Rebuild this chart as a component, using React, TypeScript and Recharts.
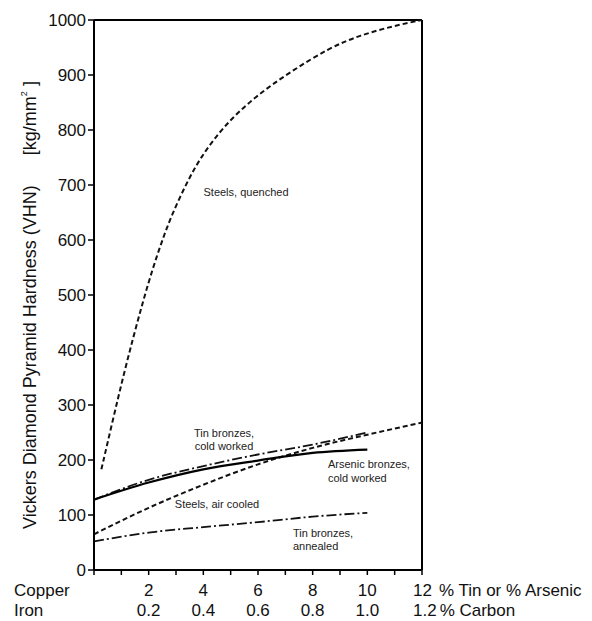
import React from 'react';
import { LineChart, Line, XAxis, YAxis, ReferenceLine, Customized } from 'recharts';

// Steels, quenched (own x positions, % carbon scaled to 0-12)
const quenchedX = [0.27, 0.7, 1.06, 1.43, 1.79, 2.16, 2.5, 2.83, 3.38, 3.87, 4.72, 5.87, 7.16, 8.63, 9.72, 10.93, 12];
const quenchedY = [183, 275, 350, 422, 488, 550, 600, 644, 703, 748, 806, 860, 905, 950, 972, 989, 1000];

// Steels, air cooled
const airX = [0, 2, 4, 6, 8, 10, 12];
const airY = [65, 113, 155, 192, 222, 246, 268];

// bronzes share the same x positions
const bronzeX = [0, 2, 4, 6, 8, 10];
const tinColdY = [128, 164, 189, 210, 228, 250];
const arsenicColdY = [128, 159, 183, 199, 213, 219];
const tinAnnealedY = [52, 68, 78, 87, 97, 104];

const xTicks = [0, 1, 2, 3, 4, 5, 6, 7, 8, 9, 10, 11, 12];
const tinLabels = ['Copper', '', '2', '', '4', '', '6', '', '8', '', '10', '', '12'];
const carbonLabels = ['Iron', '', '0.2', '', '0.4', '', '0.6', '', '0.8', '', '1.0', '', '1.2'];
const yTicks = [0, 100, 200, 300, 400, 500, 600, 700, 800, 900, 1000];

const toPoints = (xs: number[], ys: number[]) => xs.map((x, i) => ({ x, y: ys[i] }));

const FONT = '"Liberation Sans", Arial, sans-serif';

function XTick(props: any) {
  const { x, y, payload } = props;
  const i = xTicks.indexOf(payload.value);
  const top = tinLabels[i];
  const bottom = carbonLabels[i];
  if (!top) return null;
  const style = { fontFamily: FONT, fontSize: 17, fill: '#111' };
  const y1 = y + 19;
  const y2 = y + 39;
  if (payload.value === 0) {
    return (
      <g>
        <text x={x - 80} y={y1} style={style} textAnchor="start">{top}</text>
        <text x={x - 80} y={y2} style={style} textAnchor="start">{bottom}</text>
      </g>
    );
  }
  if (payload.value === 12) {
    return (
      <g>
        <text x={x - 9} y={y1} style={style} textAnchor="start">
          {top}<tspan dx={7}>% Tin or % Arsenic</tspan>
        </text>
        <text x={x - 9} y={y2} style={style} textAnchor="start">
          {bottom}<tspan dx={3}>% Carbon</tspan>
        </text>
      </g>
    );
  }
  return (
    <g>
      <text x={x} y={y1} style={style} textAnchor="middle">{top}</text>
      <text x={x} y={y2} style={style} textAnchor="middle">{bottom}</text>
    </g>
  );
}

function Annotations() {
  const s = { fontFamily: FONT, fontSize: 11, fill: '#222' };
  return (
    <g>
      <text x={30} y={305} style={{ fontFamily: FONT, fontSize: 18, fill: '#111' }} textAnchor="middle" dominantBaseline="central" transform="rotate(-90 30 305)">
        Vickers Diamond Pyramid Hardness (VHN)<tspan dx={30}>[kg/mm</tspan><tspan dy={-6} fontSize={9}>2</tspan><tspan dy={6}> ]</tspan>
      </text>
      <text x={246} y={192} style={s} textAnchor="middle" dominantBaseline="central">Steels, quenched</text>
      <text x={224} y={433} style={s} textAnchor="middle" dominantBaseline="central">Tin bronzes,</text>
      <text x={224} y={446} style={s} textAnchor="middle" dominantBaseline="central">cold worked</text>
      <text x={217} y={504} style={s} textAnchor="middle" dominantBaseline="central">Steels, air cooled</text>
      <text x={328} y={464} style={s} textAnchor="start" dominantBaseline="central">Arsenic bronzes,</text>
      <text x={328} y={478} style={s} textAnchor="start" dominantBaseline="central">cold worked</text>
      <text x={293} y={533} style={s} textAnchor="start" dominantBaseline="central">Tin bronzes,</text>
      <text x={293} y={546} style={s} textAnchor="start" dominantBaseline="central">annealed</text>
    </g>
  );
}

export default function App() {
  return (
    <div style={{ position: 'absolute', left: 0, top: 0, width: 592, height: 621, background: '#fff' }}>
      <LineChart width={592} height={621} margin={{ top: 20, right: 170, bottom: 0, left: 0 }}>
        <XAxis
          type="number"
          dataKey="x"
          domain={[0, 12]}
          ticks={xTicks}
          interval={0}
          height={51}
          axisLine={{ stroke: '#000', strokeWidth: 2 }}
          tickLine={{ stroke: '#000', strokeWidth: 1.5 }}
          tickSize={5}
          tick={<XTick />}
          allowDataOverflow
        />
        <YAxis
          type="number"
          domain={[0, 1000]}
          ticks={yTicks}
          interval={0}
          width={94}
          axisLine={{ stroke: '#000', strokeWidth: 2 }}
          tickLine={{ stroke: '#000', strokeWidth: 1.5 }}
          tickSize={6}
          tick={{ fontFamily: FONT, fontSize: 17, fill: '#111' }}
        />
        <ReferenceLine y={1000} stroke="#000" strokeWidth={2} />
        <ReferenceLine x={12} stroke="#000" strokeWidth={2} />
        <Line data={toPoints(quenchedX, quenchedY)} dataKey="y" type="basis" stroke="#111" strokeWidth={2} strokeDasharray="5 3" dot={false} isAnimationActive={false} />
        <Line data={toPoints(airX, airY)} dataKey="y" type="monotone" stroke="#111" strokeWidth={2} strokeDasharray="5 3" dot={false} isAnimationActive={false} />
        <Line data={toPoints(bronzeX, tinColdY)} dataKey="y" type="monotone" stroke="#111" strokeWidth={1.8} strokeDasharray="10 3 2 3" dot={false} isAnimationActive={false} />
        <Line data={toPoints(bronzeX, arsenicColdY)} dataKey="y" type="monotone" stroke="#000" strokeWidth={2.2} dot={false} isAnimationActive={false} />
        <Line data={toPoints(bronzeX, tinAnnealedY)} dataKey="y" type="monotone" stroke="#111" strokeWidth={1.8} strokeDasharray="10 3 2 3" dot={false} isAnimationActive={false} />
        <Customized component={Annotations} />
      </LineChart>
    </div>
  );
}
